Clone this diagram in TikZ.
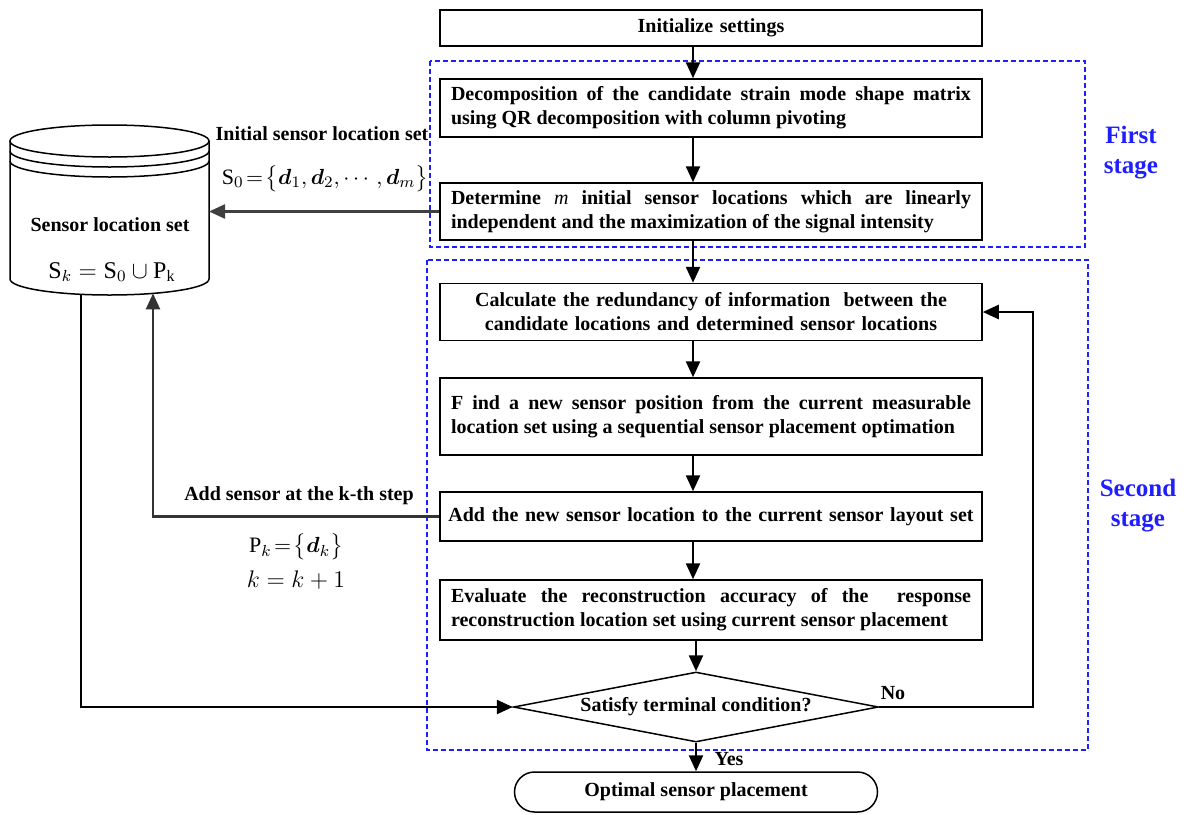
\documentclass[tikz,border=0pt]{standalone}
\usepackage{fontspec}
\usepackage{amsmath}
\usepackage{bm}
\setmainfont{Liberation Serif}
\usetikzlibrary{arrows.meta,shapes.geometric,shapes.misc,calc}
\definecolor{stageblue}{RGB}{30,30,255}
\begin{document}
\begin{tikzpicture}[x=0.5pt,y=-0.5pt,
  box/.style={draw, line width=0.75pt, font=\bfseries\fontsize{10}{12}\selectfont, text width=260pt, inner xsep=5.5pt, inner ysep=0pt, align=justify},
  lbl/.style={font=\bfseries\fontsize{10}{12}\selectfont, inner sep=1pt},
  mathlbl/.style={font=\fontsize{11}{13}\selectfont, inner sep=0pt},
  arr/.style={line width=1.2pt, -{Triangle[length=8pt,width=7pt]}},
  stagebox/.style={draw=stageblue, line width=0.6pt, dash pattern=on 2.5pt off 1.5pt},
  stagelbl/.style={text=stageblue, font=\bfseries\fontsize{12.5}{15}\selectfont, align=center},
  cyl/.style={line width=0.75pt},
]
\useasboundingbox (0,0) rectangle (1186,814);

% stage frames
\draw[stagebox] (430,61) rectangle (1085,247);
\draw[stagebox] (427,260) rectangle (1088,750);
\node[stagelbl] (st1) at (1131,153) {First\\stage};
\node[stagelbl] (st2) at (1138,506) {Second\\stage};

% process boxes
\node[box, align=center, minimum height=18pt] (init) at (711,28) {Initialize settings};
\node[box, minimum height=29pt] (dec) at (711,108) {Decomposition of the candidate strain mode shape matrix\linebreak using QR decomposition with column pivoting};
\node[box, minimum height=28.5pt] (det) at (711,211.5) {Determine {\mdseries\itshape m} initial sensor locations which are linearly\linebreak independent and the maximization of the signal intensity};
\node[box, align=center, minimum height=28.5pt] (calc) at (711,312) {Calculate the redundancy of information\ \ between the\\candidate locations and determined sensor locations};
\node[box, minimum height=38.5pt] (find) at (711,416.5) {F ind a new sensor position from the current measurable\linebreak location set using a sequential sensor placement optimation};
\node[box, align=center, text width=266pt, inner xsep=2.5pt, minimum height=24.5pt] (add) at (711,516.5) {\mbox{Add the new sensor location to the current sensor layout set}};
\node[box, minimum height=30pt] (eval) at (711,610) {Evaluate the reconstruction accuracy of the\ \ response\linebreak reconstruction location set using current sensor placement};
\node[draw, diamond, aspect=5.2, minimum width=182.5pt, minimum height=35pt, inner sep=0pt, line width=0.75pt, lbl] (dia) at (696,707) {Satisfy terminal condition?};
\node[draw, rounded rectangle, minimum width=183.5pt, minimum height=20pt, line width=0.75pt, lbl] (term) at (696,792) {Optimal sensor placement};

% cylinder (database)
\fill[white] (10,141) -- (10,279) arc[start angle=180, end angle=360, x radius=49.75pt, y radius=8pt] -- (209,141) -- cycle;
\draw[cyl] (10,141) -- (10,279) arc[start angle=180, end angle=360, x radius=49.75pt, y radius=8pt] -- (209,141);
\draw[cyl] (109.5,141) ellipse[x radius=49.75pt, y radius=8pt];
\draw[cyl] (10,151) arc[start angle=180, end angle=360, x radius=49.75pt, y radius=8pt];
\draw[cyl] (10,161) arc[start angle=180, end angle=360, x radius=49.75pt, y radius=8pt];
\node[lbl] (cyltxt) at (110,225) {Sensor location set};
\node[mathlbl, font=\fontsize{12}{14}\selectfont] (skeq) at (112,272) {$\mathrm{S}_k=\mathrm{S}_0\cup\mathrm{P}_{\mathrm{k}}$};
\coordinate (cylR) at (209,211.5);
\coordinate (cylB1) at (81,294.3);
\coordinate (cylB2) at (153,293.4);

% side labels
\node[lbl] (initlbl) at (322,134) {Initial sensor location set};
\node[mathlbl] (s0) at (325,179) {$\mathrm{S}_0\!=\!\bigl\{\bm{d}_1,\bm{d}_2,\cdots,\bm{d}_m\bigr\}$};
\node[lbl] (addlbl) at (299,496) {Add sensor at the k-th step};
\node[mathlbl] (pk) at (296,547) {$\mathrm{P}_k\!=\!\bigl\{\bm{d}_k\bigr\}$};
\node[mathlbl, font=\fontsize{13}{15}\selectfont] (kk) at (296,580) {$k=k+1$};
\node[lbl] (no) at (893,693) {No};
\node[lbl] (yes) at (729,759) {Yes};

% connectors
\coordinate (ax) at (693,0);
\coordinate (bx) at (696,0);
\coordinate (loopc) at (1033,312);
\draw[arr] (init.south -| ax) -- (dec.north -| ax);
\draw[arr] (dec.south -| ax) -- (det.north -| ax);
\draw[arr] (det.south -| ax) -- (calc.north -| ax);
\draw[arr] (calc.south -| ax) -- (find.north -| ax);
\draw[arr] (find.south -| ax) -- (add.north -| ax);
\draw[arr] (add.south -| ax) -- (eval.north -| ax);
\draw[arr] (eval.south -| bx) -- (dia.north);
\draw[arr] (dia.south) -- (term.north);
\draw[arr] (dia.east) -| (loopc) -- (calc.east);
\draw[arr, draw=black!75] (det.west) -- (cylR);
\draw[arr, draw=black!80] (add.west) -| (cylB2);
\draw[arr] (cylB1) |- (dia.west);
\end{tikzpicture}
\end{document}
